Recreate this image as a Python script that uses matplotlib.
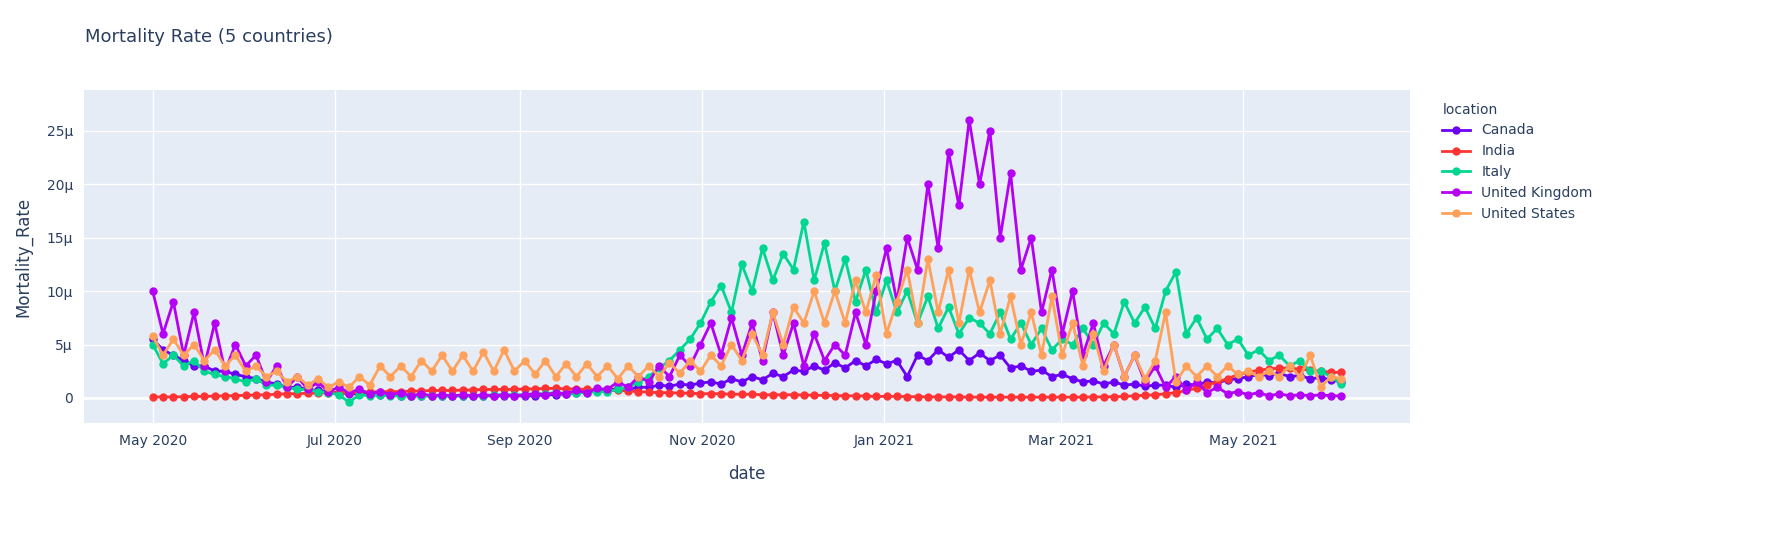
import matplotlib
matplotlib.use("Agg")
import matplotlib.pyplot as plt
import matplotlib.dates as mdates
import pandas as pd

countries = ["Canada", "India", "Italy", "United Kingdom", "United States"]
colors = ["#6A00F4", "#FF3333", "#00D68F", "#B400F4", "#FFA15A"]

canada = [5.5,4.5,4,3.5,3,3,2.5,2.5,2.2, 2,1.8,1.5,1.3,1,1,0.8,0.7,0.6, 0.5,0.4,0.4,0.3,0.3,0.3,0.2,0.2,0.2,
          0.2,0.2,0.2,0.2,0.2,0.2,0.2,0.2,0.2, 0.2,0.2,0.3,0.3,0.4,0.5,0.6,0.7, 0.7,0.9,0.8,1,1,1.2,1.1,1.3,1.2,1.4,
          1.5,1.3,1.8,1.5,2,1.7,2.3,2,2.6, 2.5,3,2.6,3.3,2.8,3.5,3,3.6,3.2, 3.5,2,4,3.5,4.5,3.8,4.5,3.5,4.2,
          3.5,4,2.8,3,2.5,2.6,2,2.2, 1.8,1.5,1.6,1.3,1.5,1.2,1.3,1.1,1.2, 1.2,1,1.3,1.2,1.5,1.4,1.7,1.8,
          2,2.2,2.1,2.3,2,2.1,1.8,1.9,1.7,1.5]
india = [0.1,0.1,0.1,0.12,0.15,0.15,0.18,0.2,0.22, 0.25,0.28,0.3,0.35,0.4,0.4,0.45,0.45,0.5, 0.5,0.5,0.55,0.55,0.6,0.6,0.6,0.65,0.65,
         0.7,0.7,0.7,0.75,0.75,0.8,0.8,0.8,0.8, 0.85,0.85,0.9,0.9,0.85,0.85,0.8,0.75, 0.7,0.7,0.65,0.6,0.55,0.5,0.5,0.45,0.45,0.4,
         0.4,0.4,0.35,0.35,0.35,0.3,0.3,0.3,0.3, 0.28,0.25,0.25,0.22,0.2,0.2,0.18,0.15,0.15, 0.15,0.13,0.12,0.1,0.1,0.1,0.1,0.08,0.08,
         0.08,0.08,0.08,0.08,0.08,0.08,0.08,0.08, 0.08,0.08,0.1,0.1,0.12,0.15,0.2,0.25,0.3, 0.4,0.5,0.7,0.9,1.2,1.5,1.8,2.2,
         2.4,2.6,2.7,2.8,2.8,2.7,2.6,2.5,2.4,2.4]
italy = [5,3.2,4,3,3.5,2.5,2.2,2,1.8, 1.5,1.8,1.2,1.2,1,0.8,0.8,0.6,0.5, 0.3,-0.4,0.3,0.2,0.3,0.2,0.2,0.2,0.2,
         0.2,0.2,0.2,0.2,0.2,0.2,0.3,0.3,0.3, 0.3,0.4,0.4,0.5,0.4,0.5,0.5,0.6, 0.6,0.8,1,1.5,2,2.8,3.5,4.5,5.5,7,
         9,10.5,8,12.5,10,14,11,13.5,12, 16.5,11,14.5,10,13,9,12,8,11, 8,10,7,9.5,6.5,8.5,6,7.5,7,
         6,8,5.5,7,5,6.5,4.5,5.5, 5,6.5,5,7,6,9,7,8.5,6.5, 10,11.8,6,7.5,5.5,6.5,5,5.5,
         4,4.5,3.5,4,3,3.5,2.5,2.5,2,1.3]
uk = [10,6,9,4,8,3,7,2.5,5, 3,4,1.5,3,1,2,0.8,1.5,0.6, 1,0.5,0.8,0.4,0.6,0.3,0.5,0.2,0.4,
      0.2,0.3,0.2,0.3,0.2,0.3,0.2,0.3,0.2, 0.3,0.4,0.3,0.5,0.4,0.7,0.5,0.9, 0.8,1.5,1,2,1.5,3,2,4,3,5,
      7,4,7.5,4,7,3.5,8,4,7, 3,6,3.5,5,4,8,5,10,14, 9,15,12,20,14,23,18,26,20,
      25,15,21,12,15,8,12,6, 10,4,7,3,5,2,4,1.5,3, 1,2,0.7,1.5,0.5,1,0.4,0.6,
      0.3,0.5,0.2,0.4,0.2,0.3,0.2,0.3,0.2,0.2]
us = [5.8,4,5.5,4,5,3.5,4.5,3,4, 2.5,3,2,2.5,1.5,2,1.2,1.8,1, 1.5,1,2,1.2,3,2,3,2,3.5,
      2.5,4,2.5,4,2.5,4.3,2.5,4.5,2.5, 3.5,2.2,3.5,2,3.2,2,3.2,2, 3,1.8,3,2,3,2,3.3,2.3,3.5,2.5,
      4,3,5,3.5,6,4,8,5,8.5, 7,10,7,10,7,11,8,11.5,6, 9,12,7,13,8,12,7,12,8,
      11,6,9.5,5,8,4,9.5,4, 7,3,6,2.5,5,2,4,1.8,3.5, 8,1.5,3,2,3,2,3,2.2,
      2.5,2,2.5,2,3,2,4,1,2,1.8]
series = [canada, india, italy, uk, us]

dates = pd.date_range("2020-05-01", "2021-06-03", periods=len(uk))

fig = plt.figure(figsize=(17.84, 5.38), dpi=100)
ax = fig.add_axes([84/1784, 1-423/538, (1410-84)/1784, (423-90)/538])
ax.set_facecolor("#E5ECF6")
for name, vals, c in zip(countries, series, colors):
    ax.plot(dates, [v*1e-6 for v in vals], color=c, lw=2, marker="o", ms=5, label=name)

ax.set_xlim(pd.Timestamp("2020-04-08"), pd.Timestamp("2021-06-26"))
ax.set_ylim(-2.34e-6, 28.8e-6)
yt = [0, 5e-6, 10e-6, 15e-6, 20e-6, 25e-6]
ax.set_yticks(yt)
ax.set_yticklabels(["0", "5μ", "10μ", "15μ", "20μ", "25μ"])
xt = pd.to_datetime(["2020-05-01","2020-07-01","2020-09-01","2020-11-01","2021-01-01","2021-03-01","2021-05-01"])
ax.set_xticks(xt)
ax.set_xticklabels(["May 2020","Jul 2020","Sep 2020","Nov 2020","Jan 2021","Mar 2021","May 2021"])
ax.grid(color="white", lw=1)
ax.axhline(0, color="white", lw=2, zorder=1)
ax.set_axisbelow(True)
for s in ax.spines.values():
    s.set_visible(False)
ax.tick_params(length=0, labelsize=10, colors="#2a3f5f", pad=8)
ax.set_xlabel("date", fontsize=12, color="#2a3f5f", labelpad=12)
ax.set_ylabel("Mortality_Rate", fontsize=12, color="#2a3f5f", labelpad=10)
fig.text(85/1784, 1-37/538, "Mortality Rate (5 countries)", fontsize=13, color="#2a3f5f", va="center")
leg = ax.legend(loc="upper left", bbox_to_anchor=(1.015, 1.0), frameon=False, title="location",
                fontsize=10, title_fontsize=10, labelcolor="#2a3f5f", handlelength=2)
leg._legend_box.align = "left"
leg.get_title().set_color("#2a3f5f")
fig.savefig("out.png", dpi=100)
